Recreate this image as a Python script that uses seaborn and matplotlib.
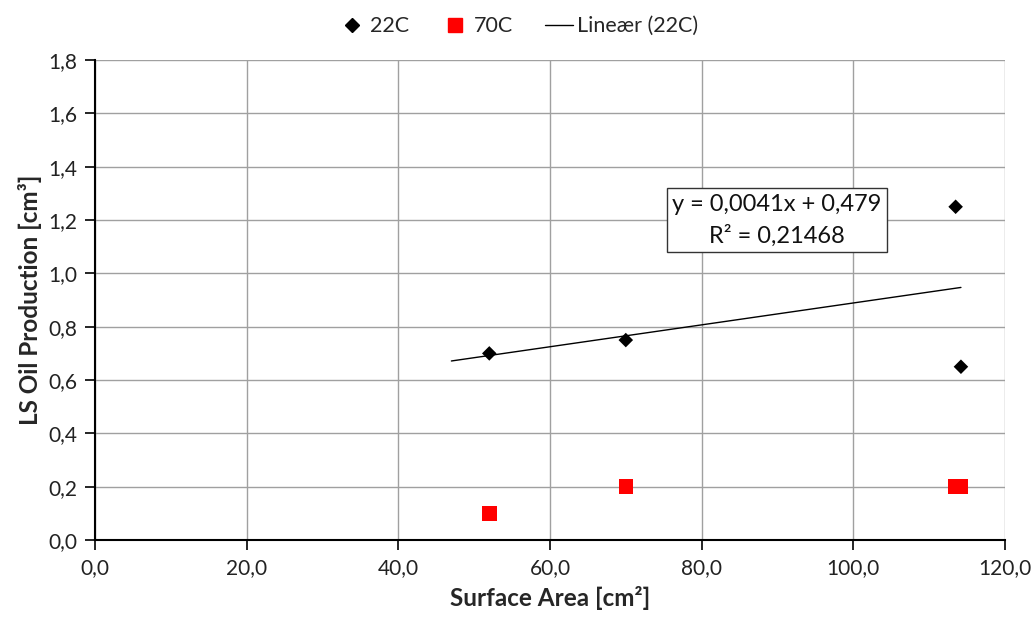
import numpy as np
import pandas as pd
import matplotlib
matplotlib.use("Agg")
import matplotlib.pyplot as plt
from matplotlib.ticker import FuncFormatter, MultipleLocator
from matplotlib.lines import Line2D
import seaborn as sns

# Data
area_22 = [52.0, 70.0, 113.5, 114.2]
prod_22 = [0.70, 0.75, 1.25, 0.65]
area_70 = [52.0, 70.0, 113.5, 114.2]
prod_70 = [0.10, 0.20, 0.20, 0.20]
series_names = ["22C", "70C", "Lineær (22C)"]
trend_backward = 5.0
eq_text = "y = 0,0041x + 0,479\nR² = 0,21468"

sns.set_theme(style="white")
plt.rcParams['font.family'] = ['Lato', 'DejaVu Sans']

fig = plt.figure(figsize=(10.36, 6.2), dpi=100)
ax = fig.add_axes([0.0917, 0.129, 0.8783, 0.774])

df22 = pd.DataFrame({"x": area_22, "y": prod_22})
df70 = pd.DataFrame({"x": area_70, "y": prod_70})

# Trendline (linear fit of 22C)
coef = np.polyfit(area_22, prod_22, 1)
tx = np.array([min(area_22) - trend_backward, max(area_22)])
dft = pd.DataFrame({"x": tx, "y": np.polyval(coef, tx)})
sns.lineplot(data=dft, x="x", y="y", ax=ax, color="black", linewidth=1.0, zorder=3)

sns.scatterplot(data=df70, x="x", y="y", ax=ax, marker="s", s=110, color="#ff0000",
                edgecolor="none", zorder=4)
sns.scatterplot(data=df22, x="x", y="y", ax=ax, marker="D", s=55, color="black",
                edgecolor="none", zorder=5)

ax.set_xlim(0, 120)
ax.set_ylim(0, 1.8)
ax.xaxis.set_major_locator(MultipleLocator(20))
ax.yaxis.set_major_locator(MultipleLocator(0.2))
ax.xaxis.set_major_formatter(FuncFormatter(lambda v, p: f"{v:.1f}".replace(".", ",")))
ax.yaxis.set_major_formatter(FuncFormatter(lambda v, p: f"{v:.1f}".replace(".", ",")))

ax.grid(True, color="#a0a0a0", linewidth=1.0)
ax.set_axisbelow(True)
for s in ["top", "right"]:
    ax.spines[s].set_visible(False)
for s in ["left", "bottom"]:
    ax.spines[s].set_color("black")
    ax.spines[s].set_linewidth(1.5)
ax.tick_params(axis="both", which="major", direction="out", length=7, width=1.2,
               color="black", labelsize=15, labelcolor="#222222", pad=6,
               bottom=True, left=True)

ax.set_xlabel("Surface Area [cm²]", fontsize=17.5, fontweight="bold", labelpad=6)
ax.set_ylabel("LS Oil Production [cm³]", fontsize=17.5, fontweight="bold", labelpad=4)

ax.text(89.9, 1.2, eq_text, ha="center", va="center", fontsize=17, linespacing=1.55,
        color="#111111",
        bbox=dict(boxstyle="square,pad=0.22", facecolor="white", edgecolor="#333333",
                  linewidth=1.0), zorder=6)

handles = [
    Line2D([], [], marker="D", linestyle="none", color="black", markersize=7),
    Line2D([], [], marker="s", linestyle="none", color="#ff0000", markersize=10),
    Line2D([], [], color="black", linewidth=1.0),
]
fig.legend(handles, series_names, loc="upper center", bbox_to_anchor=(0.5, 1.005),
           ncol=3, frameon=False, fontsize=15.5, handlelength=1.3, handletextpad=0.2,
           columnspacing=1.5)

fig.savefig("out.png", dpi=100, facecolor="white")
